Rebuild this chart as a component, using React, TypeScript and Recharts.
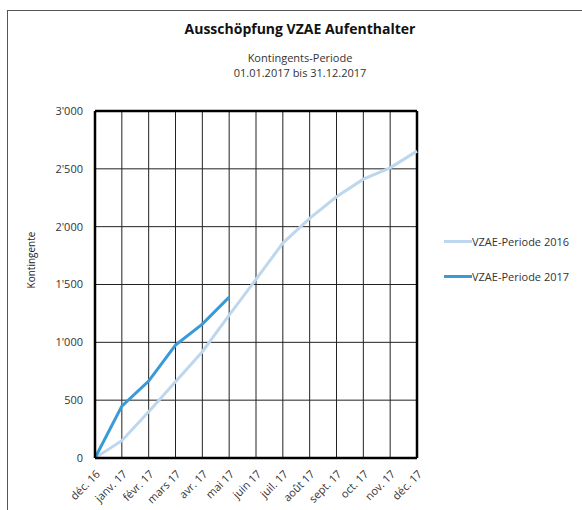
import React from "react";
import { LineChart, Line, XAxis, YAxis, CartesianGrid, ReferenceLine } from "recharts";

const months = ["déc. 16", "janv. 17", "févr. 17", "mars 17", "avr. 17", "mai 17", "juin 17", "juil. 17", "août 17", "sept. 17", "oct. 17", "nov. 17", "déc. 17"];
const period2016 = [0, 150, 400, 660, 919, 1236, 1545, 1858, 2072, 2258, 2411, 2509, 2653];
const period2017: (number | null)[] = [0, 449, 665, 977, 1158, 1391, null, null, null, null, null, null, null];
const yTicks = [0, 500, 1000, 1500, 2000, 2500, 3000];
const seriesNames = ["VZAE-Periode 2016", "VZAE-Periode 2017"];
const seriesColors = ["#BDD7EE", "#3A9AD8"];

const data = months.map((m, i) => ({ month: m, p2016: period2016[i], p2017: period2017[i] }));

const FONT = "'Open Sans', 'Noto Sans', sans-serif";

const fmt = (v: number) => {
  const s = String(v);
  return s.length > 3 ? s.slice(0, s.length - 3) + "'" + s.slice(s.length - 3) : s;
};

const XTick = (props: any) => {
  const { x, y, payload } = props;
  return (
    <g transform={`translate(${x + 3},${y + 6})`}>
      <text textAnchor="end" transform="rotate(-45)" fontSize={11} fill="#333" fontFamily={FONT} dy={4}>
        {payload.value}
      </text>
    </g>
  );
};

export default function App() {
  return (
    <div style={{ position: "absolute", left: 0, top: 0, width: 582, height: 510, background: "#fff" }}>
      <div style={{ position: "absolute", left: 7, top: 10, right: 0, bottom: 0, borderLeft: "1.5px solid #555", borderTop: "1.5px solid #555" }} />
      <div style={{ position: "absolute", left: 0, width: 600, top: 19, textAlign: "center", fontFamily: FONT, fontSize: 14, fontWeight: 700, color: "#111" }}>
        Ausschöpfung VZAE Aufenthalter
      </div>
      <div style={{ position: "absolute", left: 0, width: 600, top: 50, textAlign: "center", fontFamily: FONT, fontSize: 11, lineHeight: "15px", color: "#333" }}>
        Kontingents-Periode<br />01.01.2017 bis 31.12.2017
      </div>
      <div style={{ position: "absolute", left: 31, top: 260, transform: "translate(-50%,-50%) rotate(-90deg)", fontFamily: FONT, fontSize: 10, color: "#222", whiteSpace: "nowrap" }}>
        Kontingente
      </div>
      <div style={{ position: "absolute", left: 0, top: 0 }}>
        <LineChart width={582} height={510} data={data} margin={{ top: 111, right: 165, bottom: 0, left: 35 }}>
          <CartesianGrid stroke="#222" strokeWidth={1} />
          <XAxis
            dataKey="month"
            height={52}
            tick={<XTick />}
            tickLine={false}
            axisLine={{ stroke: "#000", strokeWidth: 2.5 }}
            interval={0}
          />
          <YAxis
            width={60}
            domain={[0, 3000]}
            ticks={yTicks}
            tickFormatter={fmt}
            tickLine={false}
            axisLine={{ stroke: "#000", strokeWidth: 2.5 }}
            tick={{ fontSize: 11, fill: "#333", fontFamily: FONT }}
            tickMargin={6}
          />
          <ReferenceLine y={3000} stroke="#000" strokeWidth={2.5} />
          <ReferenceLine x="déc. 17" stroke="#000" strokeWidth={2.5} />
          <Line dataKey="p2016" name={seriesNames[0]} stroke={seriesColors[0]} strokeWidth={3} dot={false} isAnimationActive={false} />
          <Line dataKey="p2017" name={seriesNames[1]} stroke={seriesColors[1]} strokeWidth={3} dot={false} isAnimationActive={false} connectNulls={false} />
        </LineChart>
      </div>
      <div style={{ position: "absolute", left: 444, top: 224, fontFamily: FONT, fontSize: 11, color: "#333" }}>
        {seriesNames.map((n, i) => (
          <div key={n} style={{ display: "flex", alignItems: "center", height: 35 }}>
            <div style={{ width: 28, height: 3, background: seriesColors[i] }} />
            <span>{n}</span>
          </div>
        ))}
      </div>
    </div>
  );
}
